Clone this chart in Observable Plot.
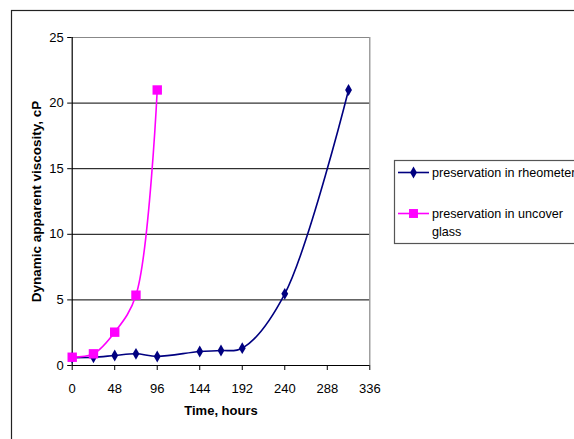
<!DOCTYPE html>
<html>
<head>
<meta charset="utf-8">
<script src="https://cdn.jsdelivr.net/npm/d3@7"></script>
<script src="https://cdn.jsdelivr.net/npm/@observablehq/plot@0.6"></script>
<style>
  html, body { margin: 0; padding: 0; background: #fff; }
  #chart { position: relative; width: 574px; height: 439px; overflow: hidden; }
</style>
</head>
<body>
<div id="chart"></div>
<script>
// Data
const rheoHours = [0, 24, 48, 72, 96, 144, 168, 192, 240, 312];
const rheoVisc  = [0.6, 0.63, 0.76, 0.89, 0.69, 1.07, 1.14, 1.32, 5.46, 21.0];
const glassHours = [0, 24, 48, 72, 96];
const glassVisc  = [0.63, 0.89, 2.54, 5.36, 21.0];
const xTicks = [0, 48, 96, 144, 192, 240, 288, 336];
const yTicks = [0, 5, 10, 15, 20, 25];
const gridY = [5, 10, 15, 20];
const seriesNames = ["preservation in rheometer", "preservation in uncover glass"];
const seriesColors = ["#000080", "#FF00FF"];

const rheo = rheoHours.map((h, i) => ({hours: h, visc: rheoVisc[i]}));
const glass = glassHours.map((h, i) => ({hours: h, visc: glassVisc[i]}));

const font = "'Liberation Sans', Arial, sans-serif";

const chart = Plot.plot({
  width: 574,
  height: 439,
  marginLeft: 71.7,
  marginRight: 204.7,
  marginTop: 37,
  marginBottom: 74,
  style: {fontFamily: font, fontSize: "13px", background: "white", overflow: "visible"},
  x: {domain: [0, 336]},
  y: {domain: [0, 25]},
  marks: [
    Plot.ruleY(gridY, {stroke: "black", strokeWidth: 1}),
    Plot.ruleY([25], {stroke: "#888", strokeWidth: 1.2}),
    Plot.ruleX([336], {stroke: "#888", strokeWidth: 1.2}),
    Plot.axisX({ticks: xTicks, tickSize: 5, tickPadding: 13, label: null, stroke: "black", fontSize: 13}),
    Plot.axisY({ticks: yTicks, tickSize: 4.5, tickPadding: 4, label: null, stroke: "black", fontSize: 13}),
    Plot.ruleX([0], {stroke: "black", strokeWidth: 1.2}),
    Plot.ruleY([0], {stroke: "black", strokeWidth: 1.2}),
    Plot.line(rheo, {x: "hours", y: "visc", stroke: seriesColors[0], strokeWidth: 1.6, curve: "catmull-rom"}),
    Plot.dot(rheo, {x: "hours", y: "visc", symbol: "diamond", r: 3.6, fill: seriesColors[0], stroke: "none"}),
    Plot.line(glass, {x: "hours", y: "visc", stroke: seriesColors[1], strokeWidth: 1.6, curve: "catmull-rom"}),
    Plot.dot(glass, {x: "hours", y: "visc", symbol: "square", r: 5.3, fill: seriesColors[1], stroke: "none"}),
    Plot.text(["Dynamic apparent viscosity, cP"], {frameAnchor: "left", rotate: -90, dx: -36, textAnchor: "middle", fontWeight: "bold", fontSize: 13.5, fill: "black"}),
    Plot.text(["Time, hours"], {frameAnchor: "bottom", dy: 49, textAnchor: "middle", fontWeight: "bold", fontSize: 13, fill: "black"})
  ]
});

document.getElementById("chart").appendChild(chart);

// Outer chart-area border and legend
const svg = d3.select(chart);
svg.insert("rect", ":first-child")
  .attr("x", 11.5).attr("y", 10.5).attr("width", 700).attr("height", 600)
  .attr("fill", "white").attr("stroke", "#222").attr("stroke-width", 1.2);

const lg = svg.append("g").attr("font-family", font).attr("font-size", 12.6).attr("text-anchor", "start");
lg.append("rect").attr("x", 394.5).attr("y", 160.5).attr("width", 300).attr("height", 83)
  .attr("fill", "white").attr("stroke", "#555").attr("stroke-width", 1.2);

const rows = [
  {y: 172.5, lines: ["preservation in rheometer"], symbol: d3.symbolDiamond, size: 40},
  {y: 213.5, lines: ["preservation in uncover", "glass"], symbol: d3.symbolSquare, size: 80}
];
rows.forEach((r, i) => {
  lg.append("line").attr("x1", 398).attr("x2", 429).attr("y1", r.y).attr("y2", r.y)
    .attr("stroke", seriesColors[i]).attr("stroke-width", 1.6);
  lg.append("path").attr("d", d3.symbol(r.symbol, r.size)()).attr("transform", `translate(413.5,${r.y})`)
    .attr("fill", seriesColors[i]);
  const t = lg.append("text").attr("x", 432).attr("y", r.y).attr("fill", "black");
  r.lines.forEach((ln, j) => {
    t.append("tspan").attr("x", 432).attr("dy", j === 0 ? "0.35em" : "18").text(ln);
  });
});
</script>
</body>
</html>
